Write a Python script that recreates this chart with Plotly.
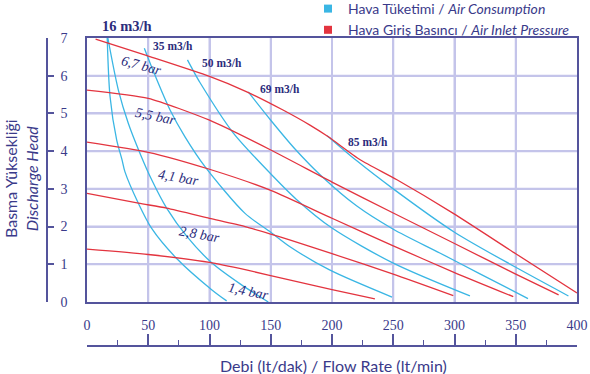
import plotly.graph_objects as go

# ---------------- data (flow lt/min, head) ----------------
# Air inlet pressure curves (red)
p14_flow = [0, 50, 100, 130, 166, 200, 235]
p14_head = [1.40, 1.26, 1.05, 0.85, 0.58, 0.33, 0.08]
p28_flow = [0, 42, 65, 100, 129, 150, 166, 200, 250, 299]
p28_head = [2.88, 2.62, 2.49, 2.22, 2.00, 1.80, 1.64, 1.28, 0.74, 0.17]
p41_flow = [0, 50, 100, 150, 200, 250, 300, 348]
p41_head = [4.24, 3.97, 3.52, 2.96, 2.22, 1.49, 0.78, 0.14]
p55_flow = [0, 50, 100, 150, 200, 250, 300, 350, 385]
p55_head = [5.62, 5.40, 4.82, 4.03, 3.18, 2.36, 1.55, 0.74, 0.19]
p67_flow = [7, 49, 100, 130, 160, 182, 197, 223, 253, 299, 350, 400]
p67_head = [6.97, 6.53, 5.98, 5.58, 5.09, 4.69, 4.38, 3.77, 3.24, 2.35, 1.28, 0.24]

# Air consumption curves (blue)
a16a_flow = [16.5, 18.8, 24.2, 28.6, 31, 41.9, 52.8, 73, 102, 114]
a16a_head = [7.0, 5.45, 4.3, 3.77, 3.45, 2.62, 1.95, 1.16, 0.32, 0.03]
a16b_flow = [17, 25.6, 33.7, 43.3, 52.8, 65, 82, 101.8, 125, 148]
a16b_head = [7.0, 5.62, 4.74, 3.94, 3.24, 2.49, 1.72, 1.04, 0.48, 0.0]
a35_flow = [46.8, 55, 67.8, 80, 96.3, 129, 150, 166, 198, 249]
a35_head = [6.73, 6.05, 5.09, 4.38, 3.59, 2.35, 1.85, 1.46, 0.85, 0.13]
a50_flow = [82, 86.8, 92.2, 119, 147, 171, 200, 250, 312.6]
a50_head = [6.42, 6.13, 5.82, 4.5, 3.5, 2.72, 1.96, 1.03, 0.16]
a69_flow = [131.6, 150, 170, 192, 220, 250, 288, 320, 360]
a69_head = [5.57, 4.82, 4.05, 3.32, 2.55, 1.93, 1.30, 0.76, 0.09]
a85_flow = [196, 220, 250, 300, 350, 393]
a85_head = [4.41, 3.75, 3.0, 1.85, 0.92, 0.16]

x_ticks = [0, 50, 100, 150, 200, 250, 300, 350, 400]
y_ticks = [0, 1, 2, 3, 4, 5, 6, 7]

consumption_labels = ["35 m3/h", "50 m3/h", "69 m3/h", "85 m3/h"]
consumption_label_pos = [(70.2, 6.78), (110.5, 6.34), (157.8, 5.65), (229.6, 4.24)]
top_label = "16 m3/h"
pressure_labels = ["6,7 bar", "5,5 bar", "4,1 bar", "2,8 bar", "1,4 bar"]
pressure_label_pos = [(44.1, 6.28), (56.3, 4.91), (74.3, 3.31), (92.2, 1.78), (132.2, 0.29)]
pressure_label_angle = [15, 12, 10, 10, 12]

BLUE = "#3ab6e4"
RED = "#e3343f"
TXT = "#3a3a8a"
DARK = "#2c2c7c"
AXC = "#54549c"
GRID = "#c4c4ea"

fig = go.Figure()

# grid lines as a background trace built from the tick lists
gx, gy = [], []
for v in x_ticks[1:-1]:
    gx += [v, v, None]
    gy += [y_ticks[0], y_ticks[-1], None]
for v in y_ticks[1:-1]:
    gx += [x_ticks[0], x_ticks[-1], None]
    gy += [v, v, None]
fig.add_trace(go.Scatter(x=gx, y=gy, mode="lines", line=dict(color=GRID, width=2),
                         showlegend=False, hoverinfo="skip", connectgaps=False))

red_series = [(p14_flow, p14_head), (p28_flow, p28_head), (p41_flow, p41_head),
              (p55_flow, p55_head), (p67_flow, p67_head)]
blue_series = [(a16a_flow, a16a_head), (a16b_flow, a16b_head), (a35_flow, a35_head),
               (a50_flow, a50_head), (a69_flow, a69_head), (a85_flow, a85_head)]

for fx, hy in blue_series:
    fig.add_trace(go.Scatter(x=fx, y=hy, mode="lines", line=dict(color=BLUE, width=1.3, shape="spline", smoothing=0.8),
                             showlegend=False, hoverinfo="skip"))
for fx, hy in red_series:
    fig.add_trace(go.Scatter(x=fx, y=hy, mode="lines", line=dict(color=RED, width=1.3, shape="spline", smoothing=0.6),
                             showlegend=False, hoverinfo="skip"))

# legend entries
fig.add_trace(go.Scatter(x=[None], y=[None], mode="markers", marker=dict(symbol="square", size=8, color=BLUE),
                         name="Hava Tüketimi / <i>Air Consumption</i>"))
fig.add_trace(go.Scatter(x=[None], y=[None], mode="markers", marker=dict(symbol="square", size=8, color=RED),
                         name="Hava Giriş Basıncı / <i>Air Inlet Pressure</i>"))

# dummy traces for the detached axes (separate thin subplots)
fig.add_trace(go.Scatter(x=[0], y=[0], xaxis="x2", yaxis="y2", mode="markers", marker=dict(opacity=0),
                         showlegend=False, hoverinfo="skip"))
fig.add_trace(go.Scatter(x=[0], y=[0], xaxis="x3", yaxis="y3", mode="markers", marker=dict(opacity=0),
                         showlegend=False, hoverinfo="skip"))

L, R, T, B = 48, 13, 38, 29
W, H = 590, 374
pw, ph = W - L - R, H - T - B


def px(p):
    return (p - L) / pw


def py(p):
    return (H - B - p) / ph


annotations = []
annotations.append(dict(x=px(127), y=py(26), xref="paper", yref="paper", text="<b>" + top_label + "</b>",
                        showarrow=False, xanchor="center", yanchor="middle",
                        font=dict(family="Liberation Serif", size=14.5, color=DARK)))
for t, (xx, yy) in zip(consumption_labels, consumption_label_pos):
    annotations.append(dict(x=xx, y=yy, xref="x", yref="y", text="<b>" + t + "</b>", showarrow=False,
                            xanchor="center", yanchor="middle",
                            font=dict(family="Liberation Serif", size=11.5, color=DARK)))
for t, (xx, yy), a in zip(pressure_labels, pressure_label_pos, pressure_label_angle):
    annotations.append(dict(x=xx, y=yy, xref="x", yref="y", text="<i>" + t + "</i>", showarrow=False,
                            xanchor="center", yanchor="middle",
                            textangle=a, font=dict(family="Liberation Serif", size=14, color=DARK)))

annotations.append(dict(x=px(333), y=py(365), xref="paper", yref="paper", showarrow=False,
                        xanchor="center", yanchor="middle",
                        text="Debi (lt/dak) / Flow Rate (lt/min)",
                        font=dict(family="Lato", size=16, color=TXT)))
annotations.append(dict(x=px(21), y=py(179), xref="paper", yref="paper", showarrow=False, textangle=-90,
                        xanchor="center", yanchor="middle",
                        text="Basma Yüksekliği<br><i>Discharge Head</i>",
                        font=dict(family="Lato", size=16, color=TXT)))

fig.update_layout(
    width=W, height=H, autosize=False,
    margin=dict(l=L, r=R, t=T, b=B, pad=0, autoexpand=False),
    paper_bgcolor="white", plot_bgcolor="white",
    annotations=annotations,
    legend=dict(x=px(308), y=py(-7), xanchor="left", yanchor="top", bgcolor="rgba(0,0,0,0)",
                font=dict(family="Lato", size=14, color=TXT), itemwidth=30, tracegroupgap=0),
    xaxis=dict(domain=[px(87), 1], range=[0, 400], tickvals=x_ticks, showgrid=True, gridcolor=GRID, gridwidth=2,
               showline=True, mirror=True, linecolor=AXC, linewidth=1.5, zeroline=False,
               ticks="outside", ticklen=9, tickcolor="rgba(0,0,0,0)",
               tickfont=dict(family="Liberation Serif", size=14, color=TXT), anchor="y"),
    yaxis=dict(domain=[py(302), 1], range=[0, 7], tickvals=y_ticks, showgrid=True, gridcolor=GRID, gridwidth=2,
               showline=True, mirror=True, linecolor=AXC, linewidth=1.5, zeroline=False,
               ticks="outside", ticklen=15, tickcolor="rgba(0,0,0,0)",
               tickfont=dict(family="Liberation Serif", size=14, color=TXT), anchor="x"),
    # detached flow axis (ticks pointing up)
    xaxis2=dict(domain=[px(87), 1], anchor="y2", range=[0, 400], tickvals=x_ticks, side="bottom",
                showgrid=False, zeroline=False, showline=True, linecolor=AXC, linewidth=1.5,
                ticks="inside", ticklen=11, tickwidth=1.5, tickcolor=AXC, showticklabels=False,
                minor=dict(dtick=25, tick0=0, ticks="inside", ticklen=5, tickwidth=1.2, tickcolor=AXC)),
    yaxis2=dict(domain=[0, 0.001], anchor="x2", range=[0, 1], visible=False),
    # detached head axis (bracket with ticks pointing right)
    yaxis3=dict(domain=[py(302), 1], anchor="x3", range=[0, 7], tickvals=y_ticks, side="left",
                showgrid=False, zeroline=False, showline=True, linecolor=AXC, linewidth=1.5,
                ticks="inside", ticklen=6, tickwidth=1.5, tickcolor=AXC, showticklabels=False),
    xaxis3=dict(domain=[0, 0.001], anchor="y3", range=[0, 1], visible=False),
)

fig.write_html("out.html", config={"displayModeBar": False},
               post_script="document.body.style.margin='0';")
